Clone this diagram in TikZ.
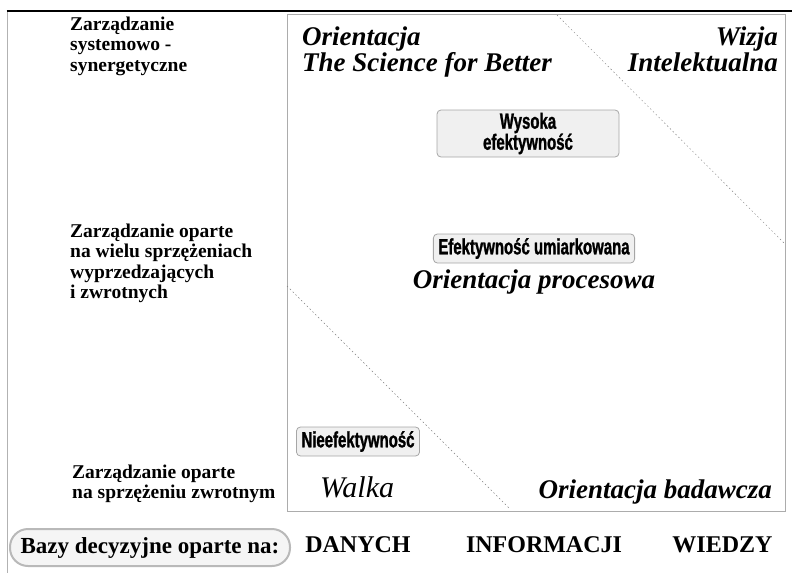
\documentclass[tikz,border=0pt]{standalone}
\usepackage{fontspec}
\setmainfont{Liberation Serif}
\newfontfamily\effont[FakeStretch=0.68,FakeBold=1.2]{Liberation Sans Bold}
\tikzset{
  mgmt/.style   = {anchor=north west,align=left,inner sep=0pt,font=\fontsize{19.5}{20.5}\selectfont\bfseries},
  orient/.style = {inner sep=0pt,font=\fontsize{27}{26}\selectfont\bfseries\itshape},
  effbox/.style = {draw=gray!70,fill=gray!12,rounded corners=4pt,line width=0.8pt,inner xsep=5pt,inner ysep=2pt,align=center,font=\fontsize{22}{21}\selectfont\effont},
  basis/.style  = {anchor=base,inner sep=0pt,font=\fontsize{24}{24}\selectfont\bfseries},
  diag/.style   = {gray,line width=0.4pt,dash pattern=on 1.5pt off 2.5pt}
}

\begin{document}
\begin{tikzpicture}[x=1pt,y=-1pt]
  \useasboundingbox (0,0) rectangle (792,573);
  % frame
  \draw[gray!60,line width=1.6pt] (7.5,11) -- (7.5,573);
  \draw[black,line width=1.5pt]   (6.7,11) -- (792,11);
  \draw[gray!65,line width=1pt]   (287,14.5) rectangle (785,511);
  \coordinate (d1a) at (557,15);  \coordinate (d1b) at (784,243);
  \coordinate (d2a) at (287,286); \coordinate (d2b) at (510,509);
  \draw[diag] (d1a) -- (d1b);
  \draw[diag] (d2a) -- (d2b);
  % management levels
  \node[mgmt] (m1) at (70,16.7)  {Zarządzanie\\systemowo -\\synergetyczne};
  \node[mgmt] (m2) at (70,223.7) {Zarządzanie oparte\\na wielu sprzężeniach\\wyprzedzających\\i zwrotnych};
  \node[mgmt] (m3) at (72,464.7) {Zarządzanie oparte\\na sprzężeniu zwrotnym};
  % orientations
  \node[orient,anchor=north west,align=left]  (sci)  at (302,26.6) {Orientacja\\The Science for Better};
  \node[orient,anchor=north east,align=right] (wiz)  at (778,26.6) {Wizja\\Intelektualna};
  \node[orient,anchor=base]                   (proc) at (534,288)  {Orientacja procesowa};
  \node[orient,anchor=base east]              (bad)  at (772,498)  {Orientacja badawcza};
  \node[anchor=base west,inner sep=0pt,font=\fontsize{30}{30}\selectfont\itshape] (walka) at (320,497) {Walka};
  % effectiveness
  \node[effbox,minimum width=182pt,minimum height=47pt] (high) at (528,133.5) {Wysoka\\efektywność};
  \node[effbox,minimum height=29pt] (mid) at (534,248.5) {Efektywność umiarkowana};
  \node[effbox,minimum height=29pt] (low) at (358,441.5) {Nieefektywność};
  % decision bases
  \node[draw=gray!55,fill=gray!8,line width=2pt,rounded corners=18pt,minimum width=280pt,minimum height=37pt,inner sep=0pt,font=\fontsize{23}{23}\selectfont\bfseries] (bazy) at (150,547.5) {Bazy decyzyjne oparte na:};
  \node[basis] (dan) at (358,552)   {DANYCH};
  \node[basis] (inf) at (544,552)   {INFORMACJI};
  \node[basis] (wie) at (722.5,552) {WIEDZY};
\end{tikzpicture}
\end{document}
